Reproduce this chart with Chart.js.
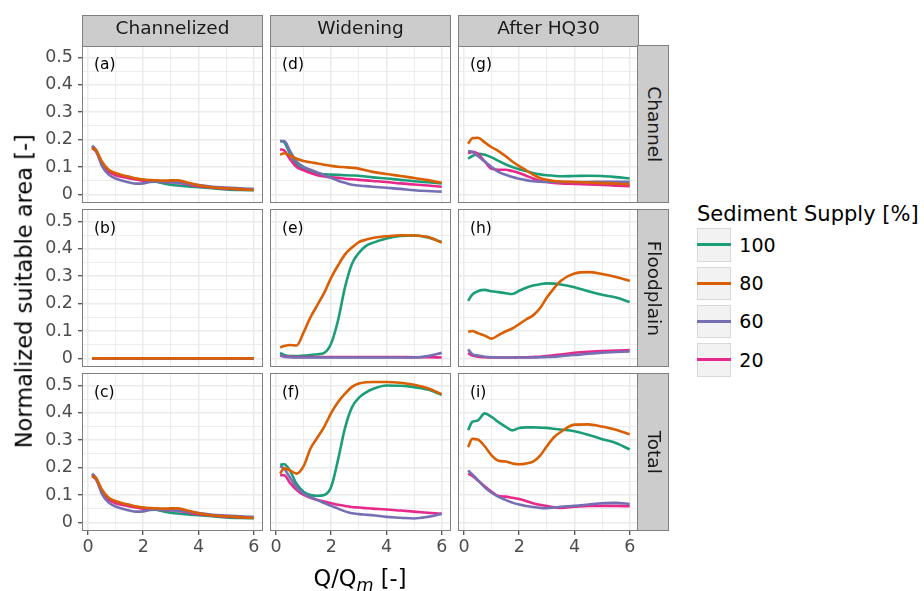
<!DOCTYPE html>
<html>
<head>
<meta charset="utf-8">
<script src="https://cdn.jsdelivr.net/npm/chart.js@4.4.1/dist/chart.umd.min.js"></script>
<style>
  body { margin: 0; background: #fff; width: 924px; height: 591px; position: relative; overflow: hidden; font-family: "DejaVu Sans", sans-serif; }
  canvas { position: absolute; }
  .txt { position: absolute; white-space: nowrap; line-height: 1; }
  .frame { position: absolute; box-sizing: border-box; border: 1.2px solid #7f7f7f; pointer-events: none; }
  .strip { position: absolute; box-sizing: border-box; border: 1.2px solid #7f7f7f; background: #cccccc; }
  .key { position: absolute; box-sizing: border-box; width: 34px; height: 33.5px; background: #f2f2f2; border: 1px solid #d9d9d9; }
  .key i { position: absolute; left: -1px; right: -1px; top: 14px; height: 3px; }
</style>
</head>
<body>
<script>
// facets
const columns = ['Channelized', 'Widening', 'After HQ30'];
const rows = ['Channel', 'Floodplain', 'Total'];
const panelTags = ['(a)', '(b)', '(c)', '(d)', '(e)', '(f)', '(g)', '(h)', '(i)'];
const supplies = ['100', '80', '60', '20'];
const supplyColors = ['#1b9e77', '#d95f02', '#7570b3', '#e7298a'];
const xTickLabels = [0, 2, 4, 6];
const yTickLabels = [0, 0.1, 0.2, 0.3, 0.4, 0.5];

// Q/Qm
const xQ = [0.15, 0.3, 0.5, 0.75, 1, 1.25, 1.5, 1.75, 2, 2.25, 2.5, 2.75, 3, 3.25, 3.5, 4, 4.5, 5, 5.5, 6];

// (a) Channelized / Channel
const a100 = [0.175, 0.16, 0.115, 0.085, 0.075, 0.068, 0.062, 0.057, 0.053, 0.05, 0.045, 0.04, 0.035, 0.032, 0.03, 0.026, 0.022, 0.018, 0.016, 0.015];
const a80 = [0.17, 0.16, 0.12, 0.09, 0.078, 0.07, 0.064, 0.058, 0.054, 0.052, 0.051, 0.05, 0.051, 0.051, 0.046, 0.033, 0.026, 0.022, 0.019, 0.016];
const a60 = [0.178, 0.16, 0.105, 0.072, 0.058, 0.05, 0.043, 0.039, 0.04, 0.045, 0.046, 0.046, 0.044, 0.042, 0.04, 0.034, 0.028, 0.025, 0.022, 0.02];
const a20 = [0.17, 0.155, 0.11, 0.083, 0.07, 0.063, 0.058, 0.054, 0.05, 0.048, 0.046, 0.045, 0.044, 0.042, 0.038, 0.03, 0.025, 0.021, 0.019, 0.017];
// (b) Channelized / Floodplain
const b100 = [0, 0, 0, 0, 0, 0, 0, 0, 0, 0, 0, 0, 0, 0, 0, 0, 0, 0, 0, 0];
const b80 = [0, 0, 0, 0, 0, 0, 0, 0, 0, 0, 0, 0, 0, 0, 0, 0, 0, 0, 0, 0];
const b60 = [0, 0, 0, 0, 0, 0, 0, 0, 0, 0, 0, 0, 0, 0, 0, 0, 0, 0, 0, 0];
const b20 = [0, 0, 0, 0, 0, 0, 0, 0, 0, 0, 0, 0, 0, 0, 0, 0, 0, 0, 0, 0];
// (c) Channelized / Total
const c100 = [0.175, 0.16, 0.115, 0.085, 0.075, 0.068, 0.062, 0.057, 0.053, 0.05, 0.045, 0.04, 0.035, 0.032, 0.03, 0.026, 0.022, 0.018, 0.016, 0.015];
const c80 = [0.17, 0.16, 0.12, 0.09, 0.078, 0.07, 0.064, 0.058, 0.054, 0.052, 0.051, 0.05, 0.051, 0.051, 0.046, 0.033, 0.026, 0.022, 0.019, 0.016];
const c60 = [0.178, 0.16, 0.105, 0.072, 0.058, 0.05, 0.043, 0.039, 0.04, 0.045, 0.046, 0.046, 0.044, 0.042, 0.04, 0.034, 0.028, 0.025, 0.022, 0.02];
const c20 = [0.17, 0.155, 0.11, 0.083, 0.07, 0.063, 0.058, 0.054, 0.05, 0.048, 0.046, 0.045, 0.044, 0.042, 0.038, 0.03, 0.025, 0.021, 0.019, 0.017];
// (d) Widening / Channel
const d100 = [0.195, 0.19, 0.15, 0.11, 0.092, 0.082, 0.076, 0.073, 0.072, 0.071, 0.07, 0.069, 0.068, 0.065, 0.062, 0.058, 0.053, 0.048, 0.044, 0.04];
const d80 = [0.145, 0.15, 0.142, 0.13, 0.122, 0.117, 0.113, 0.108, 0.104, 0.101, 0.099, 0.097, 0.094, 0.088, 0.082, 0.074, 0.067, 0.06, 0.052, 0.042];
const d60 = [0.195, 0.195, 0.16, 0.12, 0.1, 0.09, 0.08, 0.07, 0.06, 0.05, 0.042, 0.035, 0.032, 0.03, 0.028, 0.024, 0.02, 0.015, 0.012, 0.01];
const d20 = [0.165, 0.16, 0.13, 0.1, 0.088, 0.078, 0.07, 0.065, 0.062, 0.06, 0.057, 0.055, 0.053, 0.051, 0.049, 0.045, 0.04, 0.036, 0.032, 0.028];
// (e) Widening / Floodplain
const e100 = [0.02, 0.012, 0.008, 0.008, 0.01, 0.012, 0.015, 0.02, 0.055, 0.14, 0.26, 0.345, 0.385, 0.41, 0.422, 0.438, 0.447, 0.449, 0.442, 0.425];
const e80 = [0.04, 0.045, 0.049, 0.047, 0.095, 0.15, 0.195, 0.24, 0.295, 0.34, 0.38, 0.405, 0.425, 0.433, 0.44, 0.446, 0.45, 0.449, 0.443, 0.423];
const e60 = [0.012, 0.006, 0.004, 0.003, 0.003, 0.003, 0.003, 0.003, 0.003, 0.003, 0.003, 0.003, 0.003, 0.003, 0.003, 0.003, 0.003, 0.003, 0.008, 0.02];
const e20 = [0.01, 0.007, 0.006, 0.005, 0.005, 0.005, 0.005, 0.005, 0.005, 0.005, 0.005, 0.005, 0.005, 0.005, 0.005, 0.005, 0.005, 0.004, 0.004, 0.003];
// (f) Widening / Total
const f100 = [0.21, 0.212, 0.19, 0.14, 0.112, 0.1, 0.097, 0.1, 0.13, 0.23, 0.345, 0.42, 0.455, 0.474, 0.487, 0.5, 0.499, 0.494, 0.485, 0.466];
const f80 = [0.178, 0.198, 0.19, 0.178, 0.205, 0.27, 0.31, 0.35, 0.4, 0.44, 0.47, 0.495, 0.507, 0.512, 0.513, 0.513, 0.51, 0.503, 0.49, 0.468];
const f60 = [0.205, 0.195, 0.165, 0.128, 0.105, 0.092, 0.082, 0.07, 0.06, 0.05, 0.04, 0.033, 0.03, 0.028, 0.026, 0.02, 0.017, 0.014, 0.02, 0.031];
const f20 = [0.172, 0.172, 0.145, 0.118, 0.1, 0.09, 0.082, 0.076, 0.07, 0.064, 0.06, 0.056, 0.054, 0.052, 0.05, 0.047, 0.043, 0.039, 0.035, 0.031];
// (g) After HQ30 / Channel
const g100 = [0.13, 0.14, 0.148, 0.145, 0.135, 0.122, 0.11, 0.1, 0.092, 0.085, 0.078, 0.073, 0.07, 0.068, 0.066, 0.067, 0.068, 0.067, 0.063, 0.058];
const g80 = [0.185, 0.205, 0.207, 0.19, 0.172, 0.158, 0.14, 0.12, 0.103, 0.088, 0.072, 0.06, 0.053, 0.049, 0.047, 0.045, 0.043, 0.041, 0.039, 0.037];
const g60 = [0.158, 0.155, 0.14, 0.12, 0.1, 0.082, 0.072, 0.063, 0.057, 0.052, 0.048, 0.046, 0.045, 0.045, 0.045, 0.045, 0.045, 0.046, 0.046, 0.046];
const g20 = [0.15, 0.155, 0.148, 0.12, 0.093, 0.09, 0.09, 0.085, 0.078, 0.068, 0.058, 0.05, 0.045, 0.042, 0.04, 0.038, 0.036, 0.034, 0.032, 0.03];
// (h) After HQ30 / Floodplain
const h100 = [0.21, 0.233, 0.245, 0.25, 0.245, 0.242, 0.238, 0.235, 0.247, 0.258, 0.266, 0.271, 0.274, 0.273, 0.27, 0.26, 0.245, 0.232, 0.222, 0.206];
const h80 = [0.097, 0.1, 0.092, 0.083, 0.072, 0.085, 0.098, 0.109, 0.125, 0.142, 0.157, 0.183, 0.222, 0.255, 0.283, 0.31, 0.315, 0.308, 0.297, 0.283];
const h60 = [0.033, 0.015, 0.01, 0.006, 0.004, 0.003, 0.003, 0.003, 0.003, 0.003, 0.003, 0.004, 0.005, 0.006, 0.008, 0.012, 0.017, 0.021, 0.023, 0.025];
const h20 = [0.02, 0.01, 0.006, 0.004, 0.003, 0.003, 0.003, 0.003, 0.004, 0.004, 0.005, 0.006, 0.008, 0.011, 0.014, 0.02, 0.024, 0.027, 0.028, 0.03];
// (i) After HQ30 / Total
const i100 = [0.337, 0.367, 0.372, 0.398, 0.385, 0.366, 0.35, 0.336, 0.345, 0.347, 0.347, 0.346, 0.345, 0.342, 0.339, 0.333, 0.32, 0.304, 0.29, 0.266];
const i80 = [0.275, 0.305, 0.303, 0.278, 0.245, 0.225, 0.222, 0.215, 0.212, 0.215, 0.222, 0.243, 0.278, 0.31, 0.33, 0.357, 0.358, 0.35, 0.338, 0.322];
const i60 = [0.19, 0.175, 0.155, 0.128, 0.108, 0.093, 0.082, 0.072, 0.065, 0.06, 0.056, 0.053, 0.052, 0.054, 0.057, 0.06, 0.065, 0.07, 0.071, 0.067];
const i20 = [0.178, 0.17, 0.153, 0.132, 0.112, 0.096, 0.094, 0.09, 0.085, 0.078, 0.07, 0.064, 0.06, 0.055, 0.053, 0.057, 0.06, 0.06, 0.06, 0.059];

// column by column, rows top to bottom
const panels = [
  [[a100, a80, a60, a20], [b100, b80, b60, b20], [c100, c80, c60, c20]],
  [[d100, d80, d60, d20], [e100, e80, e60, e20], [f100, f80, f60, f20]],
  [[g100, g80, g60, g20], [h100, h80, h60, h20], [i100, i80, i60, i20]]
];

Chart.defaults.font.family = 'DejaVu Sans';

const colLeft = [83, 271, 459];
const rowTop = [46, 210, 374];
const PW = 179, PH = 156;
const M = 20;
const drawOrder = [3, 0, 1, 2]; // orange on top

function addText(html, css) {
  const d = document.createElement('div');
  d.className = 'txt';
  d.innerHTML = html;
  Object.assign(d.style, css);
  document.body.appendChild(d);
  return d;
}

function isMajorY(v) { return Math.round(v * 100) % 10 === 0; }
function isMajorX(v) { return Math.round(v) % 2 === 0; }

for (let c = 0; c < 3; c++) {
  for (let r = 0; r < 3; r++) {
    const yw = c === 0 ? 50 : 0;
    const xh = r === 2 ? 30 : 0;
    const cv = document.createElement('canvas');
    cv.width = M + yw + PW + M;
    cv.height = M + PH + xh + M;
    cv.style.left = (colLeft[c] - yw - M) + 'px';
    cv.style.top = (rowTop[r] - M) + 'px';
    document.body.appendChild(cv);

    const series = panels[c][r];
    new Chart(cv, {
      type: 'line',
      data: {
        datasets: series.map((vals, k) => ({
          label: supplies[k],
          data: xQ.map((x, j) => ({ x: x, y: vals[j] })),
          borderColor: supplyColors[k],
          borderWidth: 2.6,
          pointRadius: 0,
          cubicInterpolationMode: 'monotone',
          order: drawOrder[k]
        }))
      },
      options: {
        responsive: false,
        devicePixelRatio: 1,
        animation: false,
        layout: { padding: { left: M, right: M, top: M, bottom: M } },
        plugins: { legend: { display: false }, tooltip: { enabled: false } },
        scales: {
          x: {
            type: 'linear', min: -0.18, max: 6.30,
            afterFit: s => { s.height = xh; },
            border: { display: false },
            ticks: {
              display: r === 2, stepSize: 1, includeBounds: false, autoSkip: false, maxRotation: 0,
              padding: 2, color: '#4d4d4d', font: { size: 17.5 },
              callback: v => xTickLabels.includes(Math.round(v)) ? String(Math.round(v)) : ''
            },
            grid: {
              color: '#ebebeb',
              lineWidth: ctx => isMajorX(ctx.tick.value) ? 1.5 : 0.9,
              drawTicks: r === 2, tickLength: 5, tickWidth: 1.1,
              tickColor: ctx => isMajorX(ctx.tick.value) ? '#333333' : 'rgba(0,0,0,0)'
            }
          },
          y: {
            type: 'linear', min: -0.028, max: 0.542,
            afterFit: s => { s.width = yw; },
            border: { display: false },
            ticks: {
              display: c === 0, stepSize: 0.05, includeBounds: false, autoSkip: false,
              padding: 5, color: '#4d4d4d', font: { size: 17.5 },
              callback: v => {
                const k = Math.round(v * 100);
                return yTickLabels.includes(k / 100) ? String(k / 100) : '';
              }
            },
            grid: {
              color: '#ebebeb',
              lineWidth: ctx => isMajorY(ctx.tick.value) ? 1.5 : 0.9,
              drawTicks: c === 0, tickLength: 5, tickWidth: 1.1,
              tickColor: ctx => isMajorY(ctx.tick.value) ? '#333333' : 'rgba(0,0,0,0)'
            }
          }
        }
      }
    });

    // panel frame and tag
    const f = document.createElement('div');
    f.className = 'frame';
    Object.assign(f.style, { left: (colLeft[c] - 0.6) + 'px', top: (rowTop[r] - 0.6) + 'px', width: (PW + 1.2) + 'px', height: (PH + 1.2) + 'px' });
    document.body.appendChild(f);
    addText(panelTags[c * 3 + r], { left: (colLeft[c] + 11) + 'px', top: (rowTop[r] + 10.6) + 'px', fontSize: '15.5px', color: '#000' });
  }
}

// column strips
columns.forEach((name, c) => {
  const s = document.createElement('div');
  s.className = 'strip';
  Object.assign(s.style, { left: (colLeft[c] - 0.6) + 'px', top: '15px', width: (PW + 1.2) + 'px', height: '31.6px' });
  document.body.appendChild(s);
  addText(name, { left: colLeft[c] + 'px', width: PW + 'px', textAlign: 'center', top: '19.2px', fontSize: '18.5px', color: '#1a1a1a' });
});

// row strips
rows.forEach((name, r) => {
  const s = document.createElement('div');
  s.className = 'strip';
  Object.assign(s.style, { left: (colLeft[2] + PW - 0.6) + 'px', top: (rowTop[r] - 0.6) + 'px', width: '31.6px', height: (PH + 1.2) + 'px' });
  document.body.appendChild(s);
  const cx = colLeft[2] + PW + 15.5, cy = rowTop[r] + PH / 2;
  addText(name, { left: (cx - PH / 2) + 'px', top: (cy - 9.25) + 'px', width: PH + 'px', height: '18.5px', textAlign: 'center', fontSize: '18.5px', color: '#1a1a1a', transform: 'rotate(90deg)' });
});

// axis titles
addText('Q/Q<span style="font-style:italic;font-size:0.78em;position:relative;top:0.28em">m</span> [-]',
  { left: '160px', width: '400px', textAlign: 'center', top: '567.4px', fontSize: '22.5px', color: '#000' });
addText('Normalized suitable area [-]',
  { left: (23.7 - 200) + 'px', top: (291 - 11.25) + 'px', width: '400px', height: '22.5px', textAlign: 'center', fontSize: '22.5px', color: '#000', transform: 'rotate(-90deg)' });

// legend
addText('Sediment Supply [%]', { left: '697px', top: '203.5px', fontSize: '21px', color: '#000' });
supplies.forEach((s, k) => {
  const top = 228.3 + k * 38.3;
  const key = document.createElement('div');
  key.className = 'key';
  key.style.left = '696.7px';
  key.style.top = top + 'px';
  const ln = document.createElement('i');
  ln.style.background = supplyColors[k];
  key.appendChild(ln);
  document.body.appendChild(key);
  addText(s, { left: '739.3px', top: (top + 16.75 + 6.9 - 16.1) + 'px', fontSize: '19px', color: '#000' });
});
</script>
</body>
</html>
